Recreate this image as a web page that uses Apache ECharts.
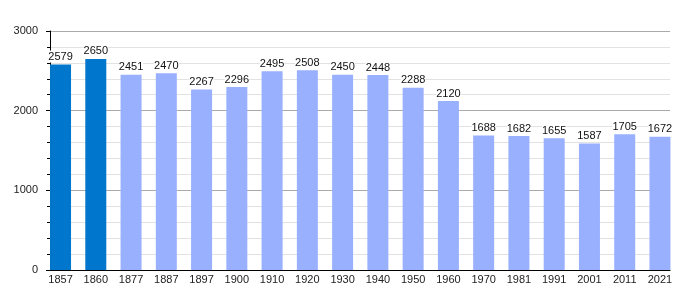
<!DOCTYPE html>
<html><head><meta charset="utf-8">
<script src="https://cdn.jsdelivr.net/npm/echarts@6/dist/echarts.min.js"></script>
<style>html,body{margin:0;padding:0;background:#fff}#c{width:700px;height:300px}</style>
</head><body><div id="c"></div>
<script>
var years = ['1857','1860','1877','1887','1897','1900','1910','1920','1930','1940','1950','1960','1970','1981','1991','2001','2011','2021'];
var population = [2579,2650,2451,2470,2267,2296,2495,2508,2450,2448,2288,2120,1688,1682,1655,1587,1705,1672];
var highlighted = ['1857','1860'];
var yTicks = [0,1000,2000,3000];

var chart = echarts.init(document.getElementById('c'), null, {renderer:'canvas'});
var font = 'Liberation Sans, Arial, sans-serif';
chart.setOption({
  animation:false,
  grid:[
    {left:50, right:30, top:31, bottom:30},
    {left:42.9, right:22.4, top:31, bottom:30}
  ],
  xAxis:[
    {gridIndex:0, type:'category', data:years, boundaryGap:true,
     axisLine:{lineStyle:{color:'#000', width:1}}, axisTick:{show:false}, axisLabel:{show:false}, splitLine:{show:false}, z:5},
    {gridIndex:1, type:'category', data:years, axisLine:{show:false}, axisTick:{show:false},
     axisLabel:{color:'#222', fontFamily:font, fontSize:11, margin:4}}
  ],
  yAxis:[
    {gridIndex:0, type:'value', min:yTicks[0], max:yTicks[yTicks.length-1], interval:1000,
     axisLine:{show:true, lineStyle:{color:'#000'}},
     axisTick:{show:true, inside:false, length:4, lineStyle:{color:'#000'}},
     minorTick:{show:true, splitNumber:5, length:3, lineStyle:{color:'#000'}},
     splitLine:{show:true, lineStyle:{color:'#aaa'}},
     minorSplitLine:{show:true, lineStyle:{color:'#e2e2e2'}},
     axisLabel:{color:'#222', fontFamily:font, fontSize:11, margin:12, formatter:function(v){return String(v);}}},
    {gridIndex:1, type:'value', min:0, max:3000, show:false, splitLine:{show:false}}
  ],
  series:[{
    type:'bar', xAxisIndex:1, yAxisIndex:1, barWidth:21,
    data: population.map(function(v,i){
      return {value:v, itemStyle:{color: highlighted.indexOf(years[i])>=0 ? '#0077cc' : '#99b0ff'}};
    }),
    label:{show:true, position:'top', distance:2, color:'#111', fontFamily:font, fontSize:11, backgroundColor:'#fff', padding:[1,0,0,0]},
    z:3
  }]
});
</script></body></html>
